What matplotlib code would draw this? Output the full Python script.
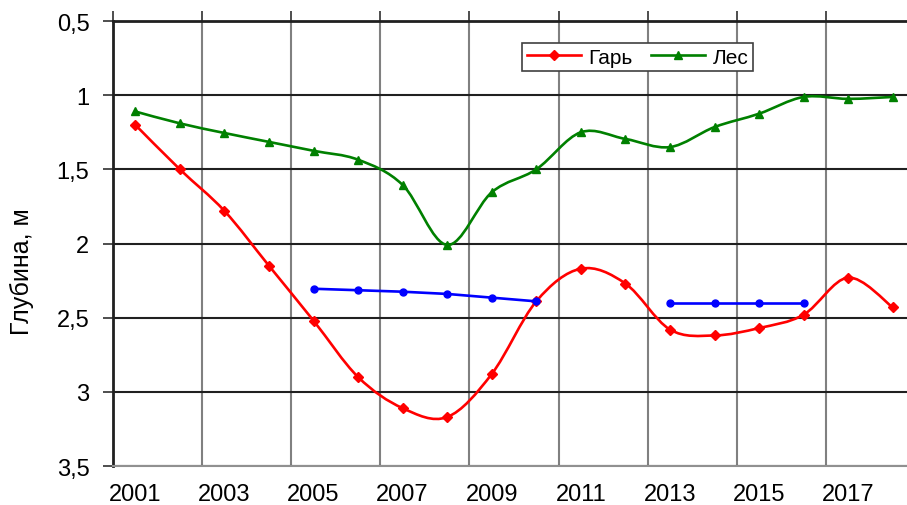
import numpy as np
import matplotlib
matplotlib.use("Agg")
import matplotlib.pyplot as plt
from matplotlib.path import Path
from matplotlib.patches import PathPatch
from matplotlib.lines import Line2D

plt.rcParams['font.family'] = ['Liberation Sans', 'DejaVu Sans']

anios = [2001, 2002, 2003, 2004, 2005, 2006, 2007, 2008, 2009, 2010, 2011, 2012, 2013, 2014, 2015, 2016, 2017, 2018]
gar = [1.2, 1.5, 1.78, 2.15, 2.52, 2.9, 3.11, 3.17, 2.88, 2.39, 2.17, 2.27, 2.58, 2.62, 2.57, 2.48, 2.23, 2.43]
les = [1.11, 1.19, 1.255, 1.315, 1.375, 1.435, 1.605, 2.01, 1.655, 1.5, 1.25, 1.295, 1.35, 1.215, 1.125, 1.012, 1.025, 1.012]
azul1_anios = [2005, 2006, 2007, 2008, 2009, 2010]
azul1 = [2.305, 2.315, 2.325, 2.34, 2.365, 2.39]
azul2_anios = [2013, 2014, 2015, 2016]
azul2 = [2.4, 2.4, 2.4, 2.4]
etiquetas_y = ["0,5", "1", "1,5", "2", "2,5", "3", "3,5"]
valores_y = [0.5, 1, 1.5, 2, 2.5, 3, 3.5]

def curva_suave(x, y): #Curva tipo Excel (Bezier Catmull-Rom) a traves de los puntos
    p = np.column_stack([x, y]).astype(float)
    verts = [p[0]]
    codes = [Path.MOVETO]
    n = len(p)
    for i in range(n - 1):
        p0 = p[i - 1] if i > 0 else p[i]
        p3 = p[i + 2] if i + 2 < n else p[i + 1]
        c1 = p[i] + (p[i + 1] - p0) / 6
        c2 = p[i + 1] - (p3 - p[i]) / 6
        verts += [c1, c2, p[i + 1]]
        codes += [Path.CURVE4] * 3
    return Path(verts, codes)

fig = plt.figure(figsize=(9.07, 5.06), dpi=100)
ax = fig.add_axes([113/907, 1-467/506, 802/907, 445/506])

idx = np.arange(len(anios))
ax.add_patch(PathPatch(curva_suave(idx, gar), fill=False, edgecolor='#ff0000', lw=1.9, zorder=3))
ax.plot(idx, gar, linestyle='none', marker='D', ms=4.8, color='#ff0000', zorder=4)
ax.add_patch(PathPatch(curva_suave(idx, les), fill=False, edgecolor='#008000', lw=1.9, zorder=3))
ax.plot(idx, les, linestyle='none', marker='^', ms=5.5, color='#008000', zorder=4)

i1 = [anios.index(a) for a in azul1_anios]
i2 = [anios.index(a) for a in azul2_anios]
ax.plot(i1, azul1, color='#0000ff', lw=1.9, marker='o', ms=5, zorder=4)
ax.plot(i2, azul2, color='#0000ff', lw=1.9, marker='o', ms=5, zorder=4)

ax.set_xlim(-0.5, len(anios) - 0.5)
ax.set_ylim(3.5, 0.5) #Eje y invertido
ax.set_yticks(valores_y)
ax.set_yticklabels(etiquetas_y, fontsize=17)
ax.set_ylabel('Глубина, м', fontsize=18)
ax.yaxis.set_label_coords(-0.099, 0.44)

bordes = np.arange(-0.5, len(anios) - 0.5, 2)
ax.set_xticks(bordes)
ax.set_xticks(idx[::2], minor=True)
ax.set_xticklabels([str(a) for a in anios[::2]], minor=True, fontsize=17)
ax.tick_params(axis='x', which='major', top=True, bottom=False, labeltop=False, labelbottom=False, length=7, width=1.3, color='#404040')
ax.tick_params(axis='x', which='minor', top=False, bottom=False, labelbottom=True, length=0, pad=12)
ax.tick_params(axis='y', which='major', length=7, width=1.3, color='#404040', pad=10)

ax.grid(axis='x', which='major', color='#808080', lw=1.5)
ax.grid(axis='y', which='major', color='#202020', lw=1.5)
ax.set_axisbelow(True)
ax.spines['right'].set_visible(False)
ax.spines['bottom'].set_color('#909090')
ax.spines['bottom'].set_linewidth(1.5)
ax.spines['top'].set_color('#202020')
ax.spines['top'].set_linewidth(2)
ax.spines['left'].set_color('#202020')
ax.spines['left'].set_linewidth(2)

h1 = Line2D([], [], color='#ff0000', lw=1.9, marker='D', ms=4.8)
h2 = Line2D([], [], color='#008000', lw=1.9, marker='^', ms=5.5)
leg = fig.legend([h1, h2], ['Гарь', 'Лес'], ncol=2, loc='upper left',
                 bbox_to_anchor=(522/907, 1-44/506), bbox_transform=fig.transFigure,
                 fontsize=15, frameon=True, fancybox=False, borderaxespad=0,
                 handlelength=2.6, handletextpad=0.35, columnspacing=0.9,
                 borderpad=0.22, framealpha=1)
leg.get_frame().set_edgecolor('#404040')
leg.get_frame().set_linewidth(1.2)

fig.savefig('out.png', dpi=100)
